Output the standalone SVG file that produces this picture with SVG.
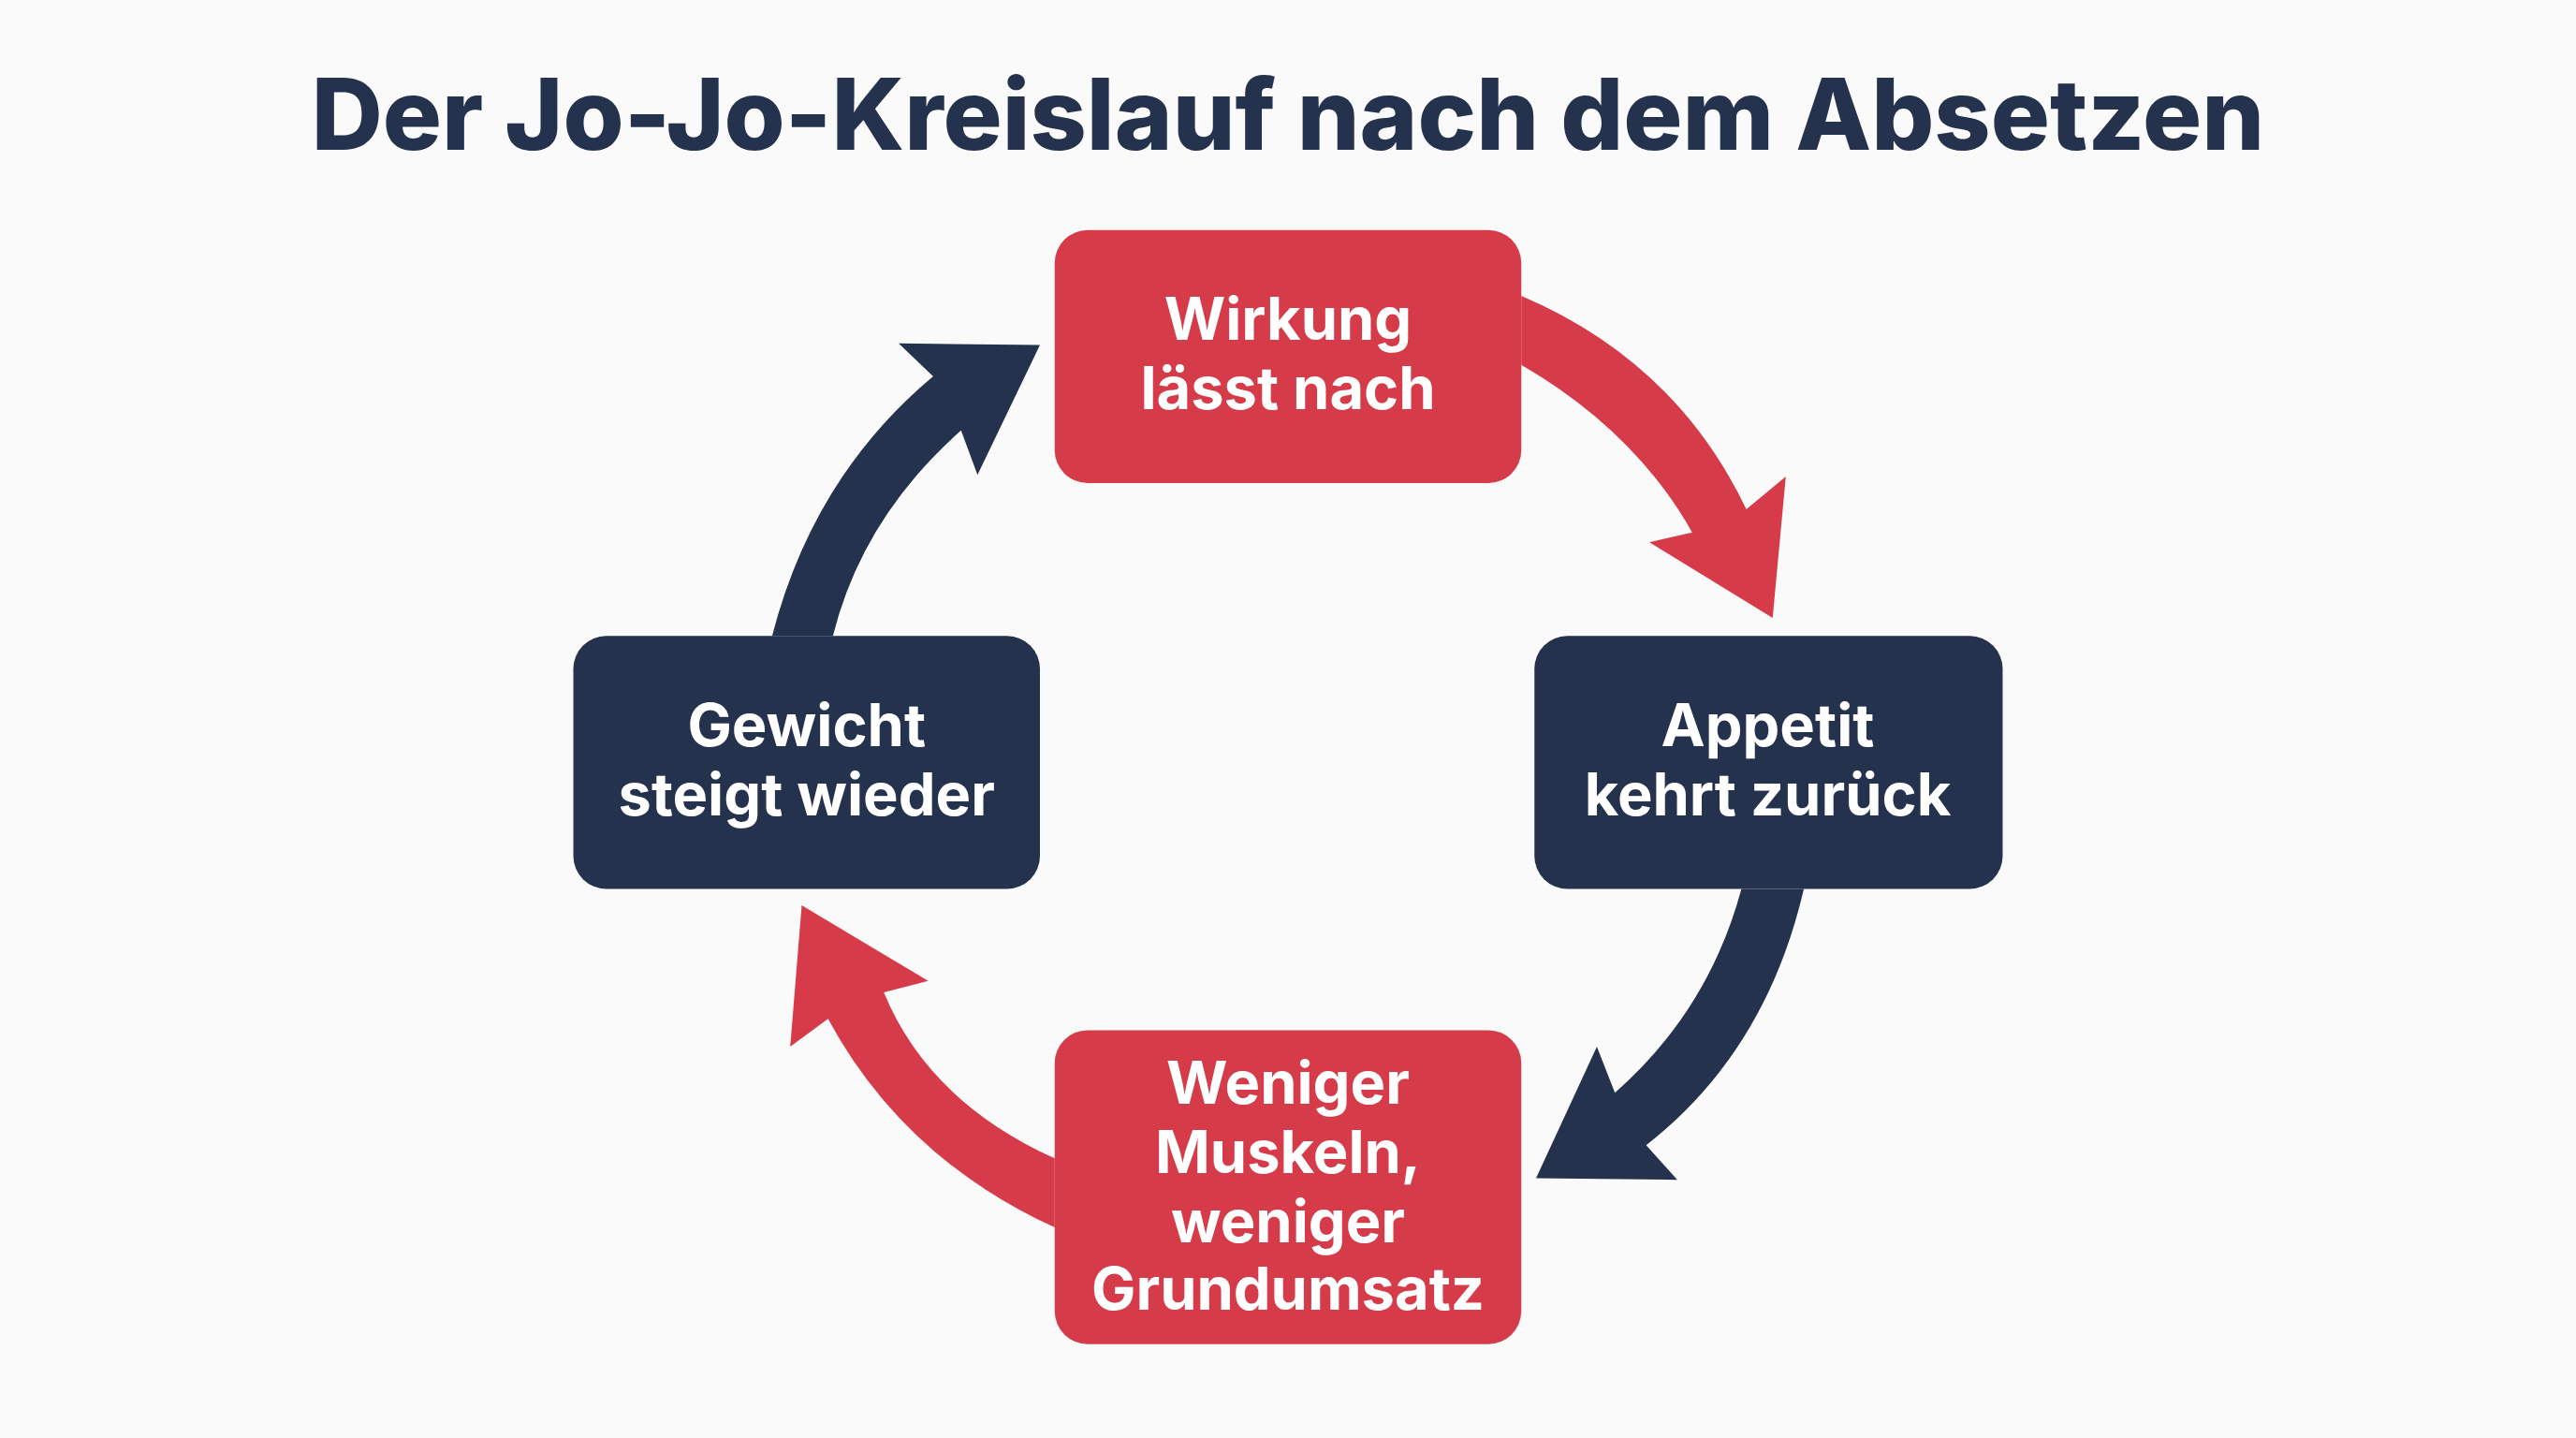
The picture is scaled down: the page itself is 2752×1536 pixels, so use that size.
<svg xmlns="http://www.w3.org/2000/svg" width="2752" height="1536" viewBox="0 0 2752 1536">
<style>
.red{fill:#D63B4A}.navy{fill:#25324D}
.t{font-family:Inter,"Liberation Sans",sans-serif;font-weight:700;fill:#fff;font-size:36px;text-anchor:middle}
.title{font-family:Inter,"Liberation Sans",sans-serif;font-weight:800;fill:#25324D;font-size:60px;text-anchor:middle}
</style>
<rect width="2752" height="1536" fill="#FAFAFA"/>
<g transform="scale(1.7551)">
<text class="title" x="784" y="91">Der Jo-Jo-Kreislauf nach dem Absetzen</text>
<g id="connectors">
<path class="red" d="M926,180 Q1020,220 1063,310 L1087,290 L1079,376 L1004,330 L1030,324 Q995,262 926,222 Z"/>
<path class="navy" d="M1060,541 Q1040,615 983,665 L972,637 L935,717 L1021,718 L1002,697 Q1075,640 1098,541 Z"/>
<path class="red" d="M642,705 Q565,670 538,604 L565,597 L488,551 L481,637 L504,620 Q550,705 642,747 Z"/>
<path class="navy" d="M470,387 Q495,290 568,229 L547,209 L633,210 L595,289 L585,262 Q525,315 507,387 Z"/>
</g>
<g id="n1"><rect class="red" x="642" y="140" width="284" height="154" rx="20"/>
<text class="t" x="784" y="207">Wirkung</text><text class="t" x="784" y="249">lässt nach</text></g>
<g id="n2"><rect class="navy" x="934" y="387" width="285" height="154" rx="20"/>
<text class="t" x="1076" y="454">Appetit</text><text class="t" x="1076" y="496">kehrt zurück</text></g>
<g id="n3"><rect class="red" x="642" y="627" width="284" height="191" rx="20"/>
<text class="t" x="784" y="672">Weniger</text><text class="t" x="784" y="714">Muskeln,</text><text class="t" x="784" y="756">weniger</text><text class="t" x="784" y="797">Grundumsatz</text></g>
<g id="n4"><rect class="navy" x="349" y="387" width="284" height="154" rx="20"/>
<text class="t" x="491" y="454">Gewicht</text><text class="t" x="491" y="496">steigt wieder</text></g>
</g>
</svg>
